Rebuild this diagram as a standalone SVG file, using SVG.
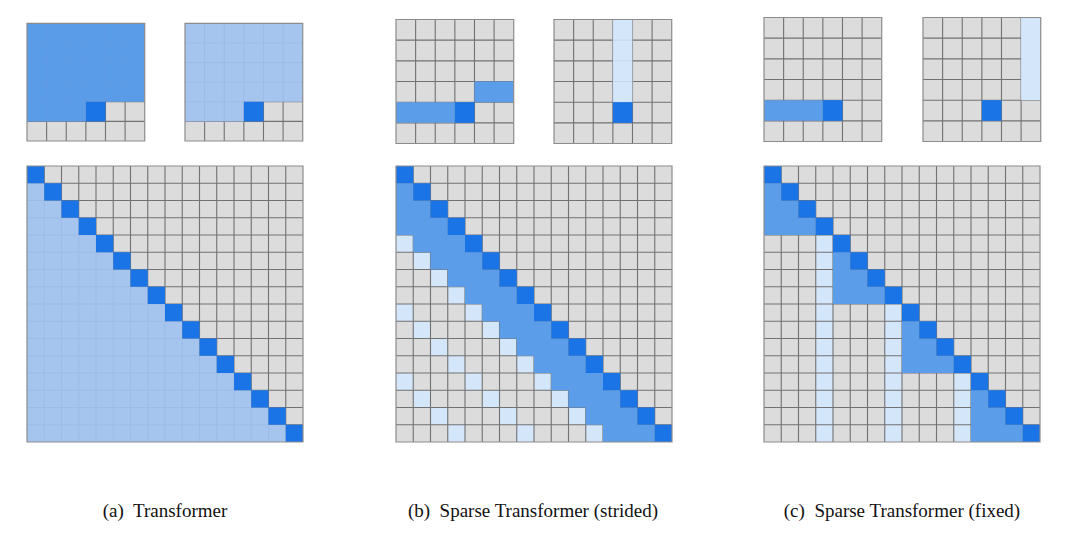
<svg xmlns="http://www.w3.org/2000/svg" xmlns:xlink="http://www.w3.org/1999/xlink" width="1080" height="536" viewBox="0 0 1080 536">
<style>
.bg{fill:#dcdcdc}
.ln{fill:none;stroke:#727272;stroke-width:1.1}
.fl{fill:none;stroke:#6f8fc0;stroke-width:0.9;opacity:0.18}
.bd{fill:none;stroke:#8c8c8c;stroke-width:1.2}
.hi{fill:#1b74e6}
.md{fill:#5c9dea}
.la{fill:#a5c5ef}
.vl{fill:#d4e6fa}
.cap{font-family:"Liberation Serif","Times New Roman",serif;font-size:19px;fill:#111111;text-anchor:middle}
</style>
<defs>
<path id="g16" vector-effect="non-scaling-stroke" d="M0 1H16M0 2H16M0 3H16M0 4H16M0 5H16M0 6H16M0 7H16M0 8H16M0 9H16M0 10H16M0 11H16M0 12H16M0 13H16M0 14H16M0 15H16M1 0V16M2 0V16M3 0V16M4 0V16M5 0V16M6 0V16M7 0V16M8 0V16M9 0V16M10 0V16M11 0V16M12 0V16M13 0V16M14 0V16M15 0V16"/>
<path id="g6" vector-effect="non-scaling-stroke" d="M0 1H6M0 2H6M0 3H6M0 4H6M0 5H6M1 0V6M2 0V6M3 0V6M4 0V6M5 0V6"/>
<path id="d16" d="M0 0h1v1h-1zM1 1h1v1h-1zM2 2h1v1h-1zM3 3h1v1h-1zM4 4h1v1h-1zM5 5h1v1h-1zM6 6h1v1h-1zM7 7h1v1h-1zM8 8h1v1h-1zM9 9h1v1h-1zM10 10h1v1h-1zM11 11h1v1h-1zM12 12h1v1h-1zM13 13h1v1h-1zM14 14h1v1h-1zM15 15h1v1h-1z"/>
<rect id="b16" x="0" y="0" width="16" height="16" vector-effect="non-scaling-stroke"/>
<rect id="b6" x="0" y="0" width="6" height="6" vector-effect="non-scaling-stroke"/>
<polygon id="tri" points="0,1 1,1 1,2 2,2 2,3 3,3 3,4 4,4 4,5 5,5 5,6 6,6 6,7 7,7 7,8 8,8 8,9 9,9 9,10 10,10 10,11 11,11 11,12 12,12 12,13 13,13 13,14 14,14 14,15 15,15 15,16 0,16"/>
<polygon id="sq" points="0,0 6,0 6,4 3,4 3,5 0,5"/>
<clipPath id="cTri"><use xlink:href="#tri"/></clipPath>
<clipPath id="cSq"><use xlink:href="#sq"/></clipPath>
<clipPath id="cCol"><rect x="3" y="0" width="1" height="4"/></clipPath>
</defs>

<g id="panel-a-small-left" transform="translate(27,23.3) scale(19.62)">
<use xlink:href="#b6" class="bg"/>
<use xlink:href="#g6" class="ln"/>
<use xlink:href="#sq" class="md"/>
<use xlink:href="#g6" class="fl" clip-path="url(#cSq)"/>
<path class="hi" d="M3 4h1v1h-1z"/>
<use xlink:href="#b6" class="bd"/>
</g>
<g id="panel-a-small-right" transform="translate(185,23.3) scale(19.62)">
<use xlink:href="#b6" class="bg"/>
<use xlink:href="#g6" class="ln"/>
<use xlink:href="#sq" class="la"/>
<use xlink:href="#g6" class="fl" clip-path="url(#cSq)"/>
<path class="hi" d="M3 4h1v1h-1z"/>
<use xlink:href="#b6" class="bd"/>
</g>
<g id="panel-a-full" transform="translate(27,166) scale(17.25)">
<use xlink:href="#b16" class="bg"/>
<use xlink:href="#g16" class="ln"/>
<use xlink:href="#tri" class="la"/>
<use xlink:href="#g16" class="fl" clip-path="url(#cTri)"/>
<use xlink:href="#d16" class="hi"/>
<use xlink:href="#b16" class="bd"/>
</g>

<g id="panel-b-small-left" transform="translate(396,19.5) scale(19.62,20.67)">
<use xlink:href="#b6" class="bg"/>
<use xlink:href="#g6" class="ln"/>
<path class="md" d="M4 3h2v1h-2zM0 4h3v1h-3z"/>
<path class="hi" d="M3 4h1v1h-1z"/>
<use xlink:href="#b6" class="bd"/>
</g>
<g id="panel-b-small-right" transform="translate(554,19.5) scale(19.62,20.67)">
<use xlink:href="#b6" class="bg"/>
<use xlink:href="#g6" class="ln"/>
<path class="vl" d="M3 0h1v4h-1z"/>
<use xlink:href="#g6" class="fl" clip-path="url(#cCol)"/>
<path class="hi" d="M3 4h1v1h-1z"/>
<use xlink:href="#b6" class="bd"/>
</g>
<g id="panel-b-full" transform="translate(396,166) scale(17.25)">
<use xlink:href="#b16" class="bg"/>
<path class="vl" d="M0 4h1v1h-1zM1 5h1v1h-1zM2 6h1v1h-1zM3 7h1v1h-1zM0 8h1v1h-1zM4 8h1v1h-1zM1 9h1v1h-1zM5 9h1v1h-1zM2 10h1v1h-1zM6 10h1v1h-1zM3 11h1v1h-1zM7 11h1v1h-1zM0 12h1v1h-1zM4 12h1v1h-1zM8 12h1v1h-1zM1 13h1v1h-1zM5 13h1v1h-1zM9 13h1v1h-1zM2 14h1v1h-1zM6 14h1v1h-1zM10 14h1v1h-1zM3 15h1v1h-1zM7 15h1v1h-1zM11 15h1v1h-1z"/>
<use xlink:href="#g16" class="ln"/>
<polygon class="md" points="0,1 1,1 1,2 2,2 2,3 3,3 3,4 4,4 4,5 5,5 5,6 6,6 6,7 7,7 7,8 8,8 8,9 9,9 9,10 10,10 10,11 11,11 11,12 12,12 12,13 13,13 13,14 14,14 14,15 15,15 15,16 12,16 12,15 11,15 11,14 10,14 10,13 9,13 9,12 8,12 8,11 7,11 7,10 6,10 6,9 5,9 5,8 4,8 4,7 3,7 3,6 2,6 2,5 1,5 1,4 0,4"/>
<use xlink:href="#d16" class="hi"/>
<use xlink:href="#b16" class="bd"/>
</g>

<g id="panel-c-small-left" transform="translate(764,17.5) scale(19.62,20.67)">
<use xlink:href="#b6" class="bg"/>
<use xlink:href="#g6" class="ln"/>
<path class="md" d="M0 4h3v1h-3z"/>
<path class="hi" d="M3 4h1v1h-1z"/>
<use xlink:href="#b6" class="bd"/>
</g>
<g id="panel-c-small-right" transform="translate(923,17.5) scale(19.62,20.67)">
<use xlink:href="#b6" class="bg"/>
<use xlink:href="#g6" class="ln"/>
<path class="vl" d="M5 0h1v4h-1z"/>
<path class="hi" d="M3 4h1v1h-1z"/>
<use xlink:href="#b6" class="bd"/>
</g>
<g id="panel-c-full" transform="translate(764,166) scale(17.25)">
<use xlink:href="#b16" class="bg"/>
<path class="vl" d="M3 4h1v12h-1zM7 8h1v8h-1zM11 12h1v4h-1z"/>
<use xlink:href="#g16" class="ln"/>
<path class="md" d="M0 1h1v1h1v1h1v1h-3zM4 5h1v1h1v1h1v1h-3zM8 9h1v1h1v1h1v1h-3zM12 13h1v1h1v1h1v1h-3z"/>
<use xlink:href="#d16" class="hi"/>
<use xlink:href="#b16" class="bd"/>
</g>

<g id="captions">
<text class="cap" x="165" y="517">(a)&#160; Transformer</text>
<text class="cap" x="533" y="517">(b)&#160; Sparse Transformer (strided)</text>
<text class="cap" x="902" y="517">(c)&#160; Sparse Transformer (fixed)</text>
</g>
</svg>
